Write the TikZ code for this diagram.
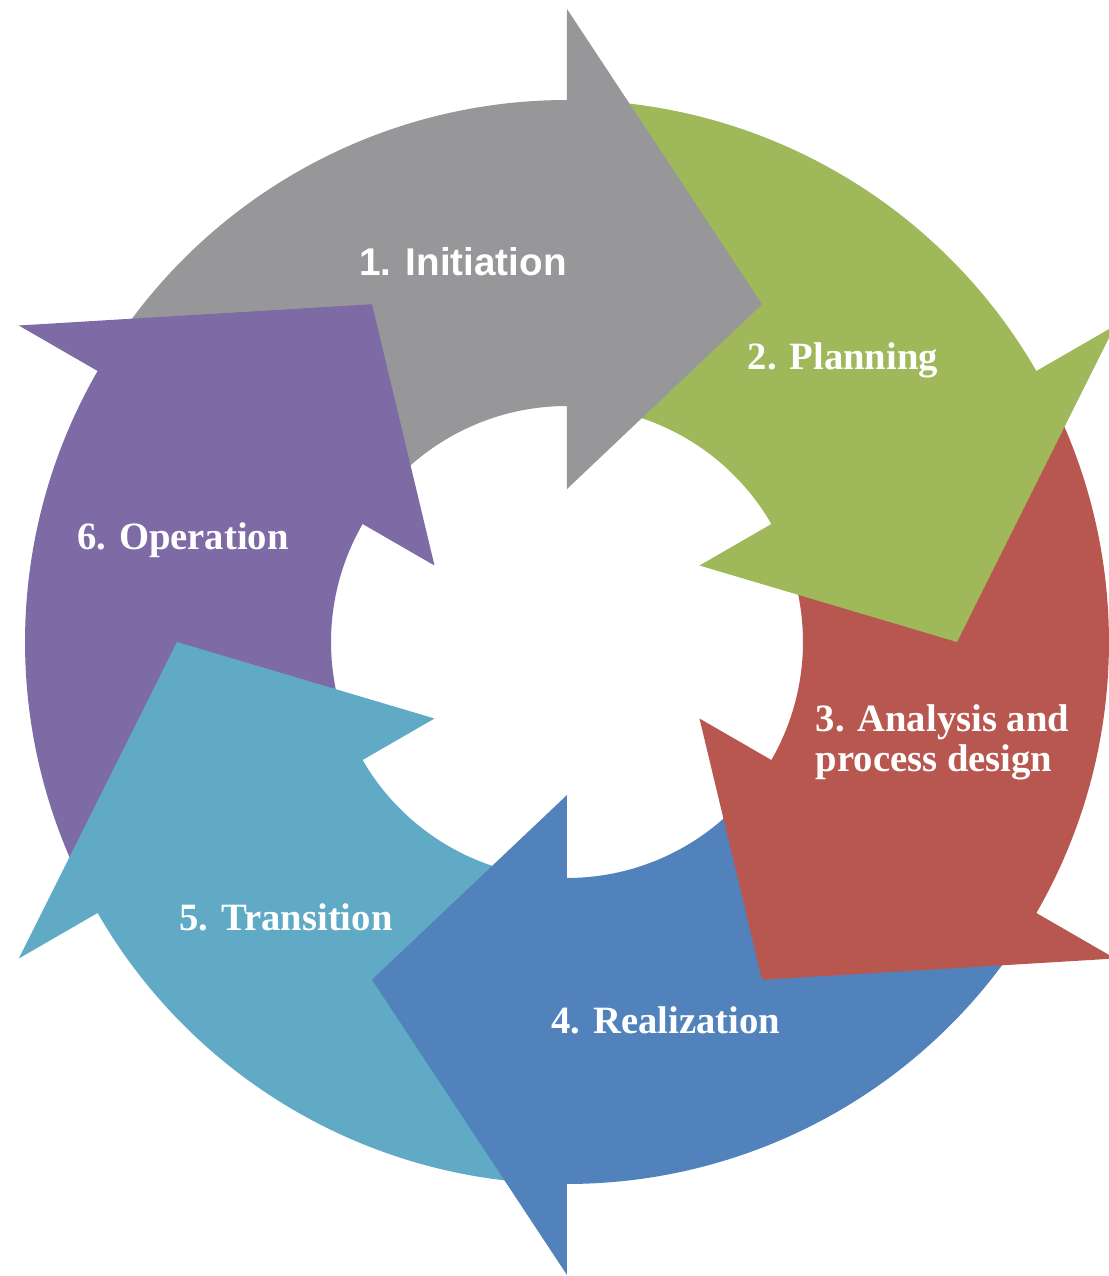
\documentclass[tikz,border=0pt]{standalone}
\usepackage{fontspec}
\usepackage{tikz}
\usetikzlibrary{calc}
\newfontfamily\etiqsans{Liberation Sans}
\newfontfamily\etiqserif{Liberation Serif}
\definecolor{gris}{RGB}{151,151,153}
\definecolor{verde}{RGB}{158,184,90}
\definecolor{rojo}{RGB}{184,87,80}
\definecolor{azul}{RGB}{82,130,188}
\definecolor{cian}{RGB}{96,170,198}
\definecolor{morado}{RGB}{126,106,164}

\begin{document}
\begin{tikzpicture}
    % Estilos de las etiquetas
    \tikzstyle{etiqueta} = [text=white, inner sep=0pt, font=\etiqserif\bfseries\fontsize{11}{11.4}\selectfont]
    \tikzstyle{etiquetasans} = [etiqueta, font=\etiqsans\bfseries\fontsize{11}{11.4}\selectfont]

    % Radios del anillo y de las puntas
    \def\Rext{5.42}
    \def\Rint{2.36}
    \def\Rbext{6.33}
    \def\Rbint{1.53}
    \def\Rpunta{3.90}

    \useasboundingbox (-5.67,-6.34) rectangle (5.41,6.42);
    \coordinate (centro) at (0,0);

    % Cuerpos de las flechas (sector del anillo, bordes dentro de las puntas)
    \foreach \ang/\col in {90/gris, 30/verde, -30/rojo, -90/azul, -150/cian, 150/morado} {
        \fill[\col] (\ang+59.5:\Rext) arc[start angle=\ang+59.5, end angle=\ang-0.5, radius=\Rext]
            -- (\ang-0.5:\Rint) arc[start angle=\ang-0.5, end angle=\ang+59.5, radius=\Rint] -- cycle;
    }
    % Puntas (encima de la cola de la flecha siguiente)
    \foreach \ang/\col in {90/gris, 30/verde, -30/rojo, -90/azul, -150/cian, 150/morado} {
        \fill[\col] (\ang:\Rbext) -- (\ang-30:\Rpunta) -- (\ang:\Rbint) -- cycle;
    }

    % Etiquetas
    \node[etiquetasans] (iniciacion) at (-1.04,3.80) {1. Initiation};
    \node[etiqueta] (planificacion) at (2.76,2.82) {2. Planning};
    \node[etiqueta, anchor=west, align=left] (analisis) at (2.48,-1.00) {3. Analysis and\\process design};
    \node[etiqueta] (realizacion) at (0.99,-3.78) {4. Realization};
    \node[etiqueta] (transicion) at (-2.81,-2.75) {5. Transition};
    \node[etiqueta] (operacion) at (-3.84,1.02) {6. Operation};
\end{tikzpicture}
\end{document}
